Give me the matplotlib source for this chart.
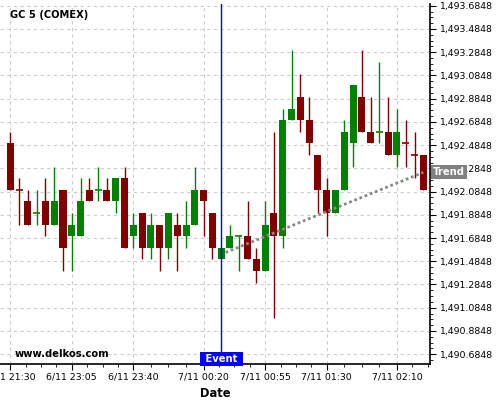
import matplotlib
matplotlib.use("Agg")
import matplotlib.pyplot as plt
import matplotlib.transforms as mtransforms
from matplotlib.ticker import FixedLocator, FuncFormatter
import numpy as np

# 5 minute candles, GC 5 (COMEX)
opens = [1492.5, 1492.1, 1492.0, 1491.9, 1492.0, 1491.8, 1492.1, 1491.7, 1491.7, 1492.1,
         1492.1, 1492.1, 1492.0, 1492.2, 1491.7, 1491.9, 1491.6, 1491.8, 1491.6, 1491.8,
         1491.7, 1491.8, 1492.1, 1491.9, 1491.5, 1491.6, 1491.7, 1491.7, 1491.5, 1491.4,
         1491.9, 1491.7, 1492.7, 1492.9, 1492.7, 1492.4, 1492.1, 1491.9, 1492.1, 1492.5,
         1492.9, 1492.6, 1492.6, 1492.6, 1492.4, 1492.5, 1492.4, 1492.4]
highs = [1492.6, 1492.2, 1492.1, 1492.1, 1492.2, 1492.3, 1492.1, 1491.9, 1492.2, 1492.2,
         1492.3, 1492.2, 1492.2, 1492.3, 1491.9, 1491.9, 1491.9, 1491.8, 1491.9, 1491.9,
         1492.0, 1492.3, 1492.1, 1491.9, 1491.6, 1491.8, 1491.7, 1492.0, 1491.6, 1492.0,
         1492.6, 1492.8, 1493.3, 1493.1, 1492.9, 1492.4, 1492.2, 1492.1, 1492.7, 1493.0,
         1493.3, 1492.9, 1493.2, 1492.9, 1492.8, 1492.7, 1492.6, 1492.4]
lows = [1492.1, 1491.8, 1491.8, 1491.8, 1491.7, 1491.8, 1491.4, 1491.4, 1491.7, 1492.0,
        1492.0, 1492.0, 1491.9, 1491.6, 1491.6, 1491.5, 1491.5, 1491.4, 1491.5, 1491.4,
        1491.6, 1491.8, 1491.7, 1491.5, 1491.5, 1491.6, 1491.4, 1491.5, 1491.3, 1491.4,
        1491.0, 1491.6, 1492.7, 1492.6, 1492.4, 1491.9, 1491.7, 1491.9, 1492.1, 1492.3,
        1492.6, 1492.5, 1492.5, 1492.4, 1492.3, 1492.3, 1492.2, 1492.1]
closes = [1492.1, 1492.1, 1491.8, 1491.9, 1491.8, 1492.0, 1491.6, 1491.8, 1492.0, 1492.0,
          1492.1, 1492.0, 1492.2, 1491.6, 1491.8, 1491.6, 1491.8, 1491.6, 1491.9, 1491.7,
          1491.8, 1492.1, 1492.0, 1491.6, 1491.6, 1491.7, 1491.7, 1491.5, 1491.4, 1491.8,
          1491.7, 1492.7, 1492.8, 1492.7, 1492.5, 1492.1, 1491.9, 1492.1, 1492.6, 1493.0,
          1492.6, 1492.5, 1492.6, 1492.4, 1492.6, 1492.5, 1492.4, 1492.1]
doji_up = [3, 10, 26, 42]

tick_pos = [0, 7, 14, 22, 29, 36, 44]
tick_labels = ["6/11 21:30", "6/11 23:05", "6/11 23:40", "7/11 00:20",
               "7/11 00:55", "7/11 01:30", "7/11 02:10"]

event_index = 24
trend_x = [24.5, 47]
trend_y = [1491.56, 1492.25]

up_color = "#008000"
down_color = "#800000"


def main():
    fig = plt.figure(figsize=(5, 4), dpi=100)
    ax = fig.add_axes([0.0, 0.09, 0.86, 0.90])

    n = len(opens)
    x = np.arange(n)
    o = np.array(opens)
    c = np.array(closes)
    colors = []
    for i in range(n):
        if c[i] > o[i] or (c[i] == o[i] and i in doji_up):
            colors.append(up_color)
        else:
            colors.append(down_color)

    ax.vlines(x, lows, highs, colors=colors, linewidth=1.0, zorder=3)
    body = np.abs(c - o)
    is_doji = body == 0
    ax.bar(x[~is_doji], body[~is_doji], bottom=np.minimum(o, c)[~is_doji], width=0.8,
           color=np.array(colors)[~is_doji], linewidth=0, zorder=4)
    ax.hlines(c[is_doji], x[is_doji] - 0.4, x[is_doji] + 0.4,
              colors=np.array(colors)[is_doji], linewidth=1.2, zorder=4)

    ax.axvline(event_index, color="#0000ff", linewidth=1.0, zorder=5)
    ax.plot(trend_x, trend_y, color="#888888", linewidth=2, linestyle=(0, (1, 1)), zorder=6)

    ax.set_xlim(-1.17, 47.76)
    ax.set_ylim(1490.6, 1493.7)

    # axes style
    for s in ["left", "top"]:
        ax.spines[s].set_visible(False)
    for s in ["right", "bottom"]:
        ax.spines[s].set_linewidth(1.2)
    ax.yaxis.tick_right()

    ax.xaxis.set_major_locator(FixedLocator(tick_pos))
    ax.set_xticklabels(tick_labels)
    minor_x = []
    for a, b in zip(tick_pos[:-1], tick_pos[1:]):
        step = (b - a) / 4
        minor_x += [a + step * k for k in (1, 2, 3)]
    minor_x += [tick_pos[-1] + 1.75, tick_pos[-1] + 3.5]
    ax.xaxis.set_minor_locator(FixedLocator(minor_x))

    ax.yaxis.set_major_locator(FixedLocator(1490.6848 + 0.2 * np.arange(16)))
    ax.yaxis.set_minor_locator(FixedLocator(1490.6348 + 0.05 * np.arange(62)))
    ax.yaxis.set_major_formatter(FuncFormatter(lambda v, p: "{:,.4f}".format(v)))

    ax.tick_params(which="major", length=4, width=0.8, labelsize=6.75, pad=2.2)
    ax.tick_params(which="minor", length=2, width=0.6)
    ax.grid(True, which="major", color="#cccccc", linestyle=(0, (3, 3)), linewidth=0.8, zorder=0)
    ax.set_axisbelow(True)

    ax.set_xlabel("Date", fontsize=8.3, fontweight="bold", labelpad=4)

    ax.text(10 / 430, 1 - 11 / 360, "GC 5 (COMEX)", transform=ax.transAxes,
            fontsize=7.1, fontweight="bold", ha="left", va="center")
    ax.text(15 / 430, 10 / 360, "www.delkos.com", transform=ax.transAxes,
            fontsize=7.2, fontweight="bold", ha="left", va="center")

    blend_x = mtransforms.blended_transform_factory(ax.transData, ax.transAxes)
    ax.text(event_index, 0.0, " Event ", transform=blend_x, ha="center", va="bottom",
            fontsize=7.2, fontweight="bold", color="white", zorder=7,
            bbox=dict(boxstyle="square,pad=0.2", fc="#0000ff", ec="none"))

    blend_y = mtransforms.blended_transform_factory(ax.transAxes, ax.transData)
    ax.text(1.007, trend_y[-1], "Trend", transform=blend_y, ha="left", va="center",
            fontsize=7.2, fontweight="bold", color="white", zorder=7,
            bbox=dict(boxstyle="square,pad=0.2", fc="#808080", ec="none"))

    fig.savefig("out.png", dpi=100)


if __name__ == "__main__":
    main()
